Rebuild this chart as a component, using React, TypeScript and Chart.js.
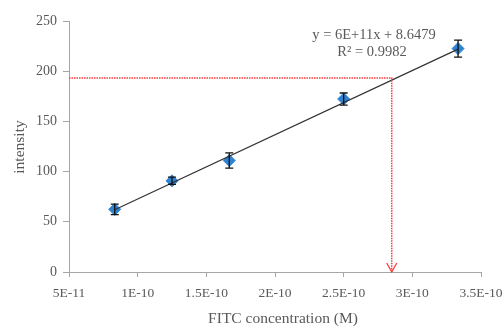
import React, { useEffect, useRef } from "react";
import { Chart, registerables } from "chart.js";

Chart.register(...registerables);

const concentrations = [8.33e-11, 1.25e-10, 1.667e-10, 2.5e-10, 3.333e-10];
const intensities = [62.4, 90.8, 111.0, 172.3, 222.5];
const errors = [5.3, 3.6, 7.6, 6.0, 8.5];

const trendSlope = 6.4e11;
const trendIntercept = 8.6479;
const equationText = "y = 6E+11x + 8.6479";
const r2Text = "R² = 0.9982";

const sampleIntensity = 193.3;
const sampleConcentration = 2.85e-10;

const xTickValues = [5e-11, 1e-10, 1.5e-10, 2e-10, 2.5e-10, 3e-10, 3.5e-10];
const xTickLabels = ["5E-11", "1E-10", "1.5E-10", "2E-10", "2.5E-10", "3E-10", "3.5E-10"];
const yTickValues = [0, 50, 100, 150, 200, 250];

const xTitle = "FITC concentration (M)";
const yTitle = "intensity";

const SERIF = "'Liberation Serif', 'Times New Roman', serif";
const TEXT = "#595959";
const AXIS = "#a6a6a6";

export default function App() {
  const ref = useRef<HTMLCanvasElement | null>(null);

  useEffect(() => {
    if (!ref.current) return;
    const xMin = Math.min(...concentrations);
    const xMax = Math.max(...concentrations);

    const overlay = {
      id: "overlay",
      afterDatasetsDraw(chart: any) {
        const ctx = chart.ctx;
        const xs = chart.scales.x;
        const ys = chart.scales.y;
        ctx.save();
        // error bars
        ctx.strokeStyle = "#111";
        ctx.lineWidth = 1.3;
        concentrations.forEach((c, i) => {
          const px = xs.getPixelForValue(c);
          const top = ys.getPixelForValue(intensities[i] + errors[i]);
          const bot = ys.getPixelForValue(intensities[i] - errors[i]);
          ctx.beginPath();
          ctx.moveTo(px, top);
          ctx.lineTo(px, bot);
          ctx.moveTo(px - 4, top);
          ctx.lineTo(px + 4, top);
          ctx.moveTo(px - 4, bot);
          ctx.lineTo(px + 4, bot);
          ctx.stroke();
        });
        // arrow head
        const ax = xs.getPixelForValue(sampleConcentration);
        const ay = ys.getPixelForValue(0);
        ctx.strokeStyle = "#ff3a3a";
        ctx.lineWidth = 1.3;
        ctx.beginPath();
        ctx.moveTo(ax - 5, ay - 9);
        ctx.lineTo(ax, ay);
        ctx.lineTo(ax + 5, ay - 9);
        ctx.stroke();
        // texts
        ctx.fillStyle = TEXT;
        ctx.textAlign = "center";
        ctx.textBaseline = "middle";
        ctx.font = `14.5px ${SERIF}`;
        ctx.fillText(equationText, 374, 35);
        ctx.fillText(r2Text, 372, 52);
        ctx.font = `15.5px ${SERIF}`;
        ctx.fillText(xTitle, 283, 319);
        ctx.translate(20, 147);
        ctx.rotate(-Math.PI / 2);
        ctx.fillText(yTitle, 0, 0);
        ctx.restore();
      },
    };

    const chart = new Chart(ref.current, {
      type: "scatter",
      data: {
        datasets: [
          {
            label: "sample",
            data: [
              { x: 5e-11, y: sampleIntensity },
              { x: sampleConcentration, y: sampleIntensity },
              { x: sampleConcentration, y: 0 },
            ],
            showLine: true,
            borderColor: "#ff3a3a",
            borderWidth: 1.5,
            borderDash: [1.5, 1],
            pointRadius: 0,
            fill: false,
          },
          {
            label: "trend",
            data: [
              { x: xMin, y: trendSlope * xMin + trendIntercept },
              { x: xMax, y: trendSlope * xMax + trendIntercept },
            ],
            showLine: true,
            borderColor: "#333",
            borderWidth: 1.2,
            pointRadius: 0,
            fill: false,
          },
          {
            label: "intensity",
            data: concentrations.map((c, i) => ({ x: c, y: intensities[i] })),
            pointStyle: "rectRot",
            pointRadius: 6,
            backgroundColor: "#2f82d2",
            borderColor: "#2f82d2",
            borderWidth: 1,
          },
        ],
      },
      options: {
        responsive: false,
        animation: false,
        layout: { padding: { top: 21, right: 23, left: 0, bottom: 0 } },
        plugins: {
          legend: { display: false },
          tooltip: { enabled: false },
        },
        scales: {
          x: {
            type: "linear",
            min: 5e-11,
            max: 3.5e-10,
            afterBuildTicks: (s: any) => {
              s.ticks = xTickValues.map((v) => ({ value: v }));
            },
            afterFit: (s: any) => {
              s.height = 55;
              s.paddingLeft = 0;
              s.paddingRight = 0;
            },
            ticks: {
              callback: (_v: any, i: number) => xTickLabels[i],
              color: TEXT,
              font: { family: SERIF, size: 13.5 },
              padding: 8,
              maxRotation: 0,
              autoSkip: false,
            },
            grid: { drawOnChartArea: false, drawTicks: true, tickLength: 5, color: AXIS },
            border: { display: true, color: AXIS },
          },
          y: {
            type: "linear",
            min: 0,
            max: 250,
            afterBuildTicks: (s: any) => {
              s.ticks = yTickValues.map((v) => ({ value: v }));
            },
            afterFit: (s: any) => {
              s.width = 69;
              s.paddingTop = 0;
              s.paddingBottom = 0;
            },
            ticks: {
              color: TEXT,
              font: { family: SERIF, size: 14 },
              padding: 6,
            },
            grid: { drawOnChartArea: false, drawTicks: true, tickLength: 6, color: AXIS },
            border: { display: true, color: AXIS },
          },
        },
      },
      plugins: [overlay],
    } as any);
    return () => chart.destroy();
  }, []);

  return (
    <div style={{ position: "fixed", left: 0, top: 0, width: 504, height: 327, background: "#fff" }}>
      <canvas ref={ref} width={504} height={327} style={{ display: "block" }} />
    </div>
  );
}
